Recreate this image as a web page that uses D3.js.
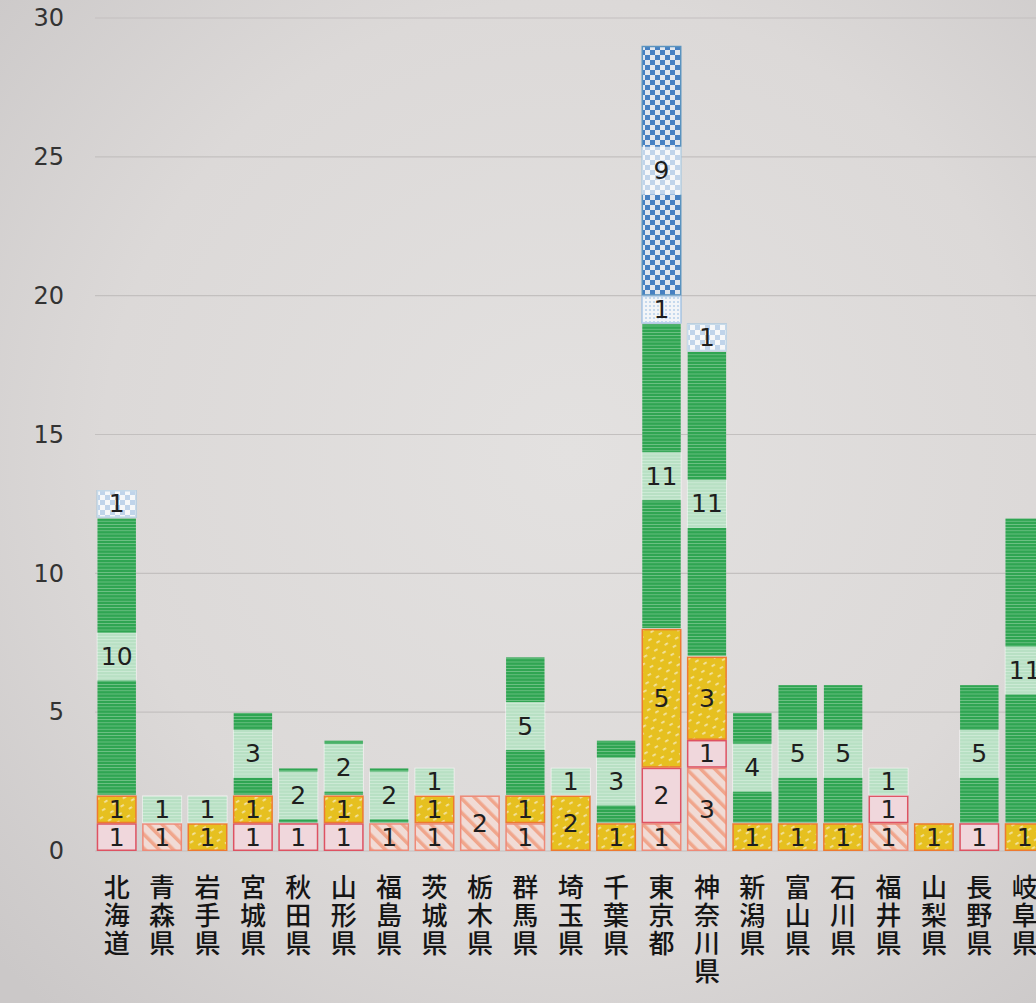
<!DOCTYPE html>
<html>
<head>
<meta charset="utf-8">
<script src="https://cdn.jsdelivr.net/npm/d3@7"></script>
<style>
  html, body { margin: 0; padding: 0; background: #d8d5d4; overflow: hidden; }
  svg { display: block; }
</style>
</head>
<body>
<svg id="chart" width="1036" height="1003"></svg>
<script>
// ---- data ----
const categories = ["北海道","青森県","岩手県","宮城県","秋田県","山形県","福島県","茨城県","栃木県","群馬県","埼玉県","千葉県","東京都","神奈川県","新潟県","富山県","石川県","福井県","山梨県","長野県","岐阜県"];
const seriesA = [0,1,0,0,0,0,1,1,2,1,0,0,1,3,0,0,0,1,0,0,0];   // salmon hatch
const seriesB = [1,0,0,1,1,1,0,0,0,0,0,0,2,1,0,0,0,1,0,1,0];   // pink
const seriesC = [1,0,1,1,0,1,0,1,0,1,2,1,5,3,1,1,1,0,1,0,1];   // yellow dotted
const seriesD = [10,1,1,3,2,2,2,1,0,5,1,3,11,11,4,5,5,1,0,5,11]; // green striped
const seriesE = [0,0,0,0,0,0,0,0,0,0,0,0,1,0,0,0,0,0,0,0,0];   // blue dotted
const seriesF = [1,0,0,0,0,0,0,0,0,0,0,0,9,1,0,0,0,0,0,0,0];   // blue checker
const yTicks = [0,5,10,15,20,25,30];

const seriesList = [
  {key:"A", values: seriesA, fill:"url(#pA)", stroke:"#ee8a78", box:false},
  {key:"B", values: seriesB, fill:"url(#pB)", stroke:"#de5262", box:false},
  {key:"C", values: seriesC, fill:"url(#pC)", stroke:"#ee7a30", box:false},
  {key:"D", values: seriesD, fill:"url(#pD)", stroke:"#2f9e4e", box:true},
  {key:"E", values: seriesE, fill:"url(#pE)", stroke:"#3a7cc4", box:true},
  {key:"F", values: seriesF, fill:"url(#pF)", stroke:"#5a93bf", box:true}
];

const svg = d3.select("#chart");
const W = 1036, H = 1003;
const defs = svg.append("defs");

// background (photo-like light vignette)
const bg = defs.append("radialGradient").attr("id","bg")
  .attr("cx","55%").attr("cy","45%").attr("r","75%");
bg.append("stop").attr("offset","0%").attr("stop-color","#e3e1e0");
bg.append("stop").attr("offset","60%").attr("stop-color","#dcd9d8");
bg.append("stop").attr("offset","100%").attr("stop-color","#cbc8c8");
svg.append("rect").attr("width",W).attr("height",H).attr("fill","url(#bg)");

// patterns
function pat(id, w, h, transform) {
  const p = defs.append("pattern").attr("id", id)
    .attr("patternUnits","userSpaceOnUse").attr("width", w).attr("height", h);
  if (transform) p.attr("patternTransform", transform);
  return p;
}
// A salmon diagonal hatch
let p = pat("pA", 10, 10, "rotate(-45)");
p.append("rect").attr("width",10).attr("height",10).attr("fill","#f1dbd5");
p.append("rect").attr("width",3.5).attr("height",10).attr("fill","#f0a68c");
// B pink
p = pat("pB", 6, 6);
p.append("rect").attr("width",6).attr("height",6).attr("fill","#f0d7dc");
// C yellow with white dashes
p = pat("pC", 12, 12, "rotate(-30)");
p.append("rect").attr("width",12).attr("height",12).attr("fill","#e6c020");
p.append("rect").attr("x",1).attr("y",2).attr("width",4).attr("height",1.8).attr("rx",0.9).attr("fill","#f3e4a6");
p.append("rect").attr("x",7).attr("y",8).attr("width",4).attr("height",1.8).attr("rx",0.9).attr("fill","#f3e4a6");
// D green horizontal stripes
p = pat("pD", 4, 3.2);
p.append("rect").attr("width",4).attr("height",3.2).attr("fill","#2fa552");
p.append("rect").attr("y",2.4).attr("width",4).attr("height",0.8).attr("fill","#74c48a");
// E blue dots
p = pat("pE", 4, 4);
p.append("rect").attr("width",4).attr("height",4).attr("fill","#dbe2ea");
p.append("circle").attr("cx",2).attr("cy",2).attr("r",1.1).attr("fill","#3a7cc4");
// F checkerboard
p = pat("pF", 10, 10);
p.append("rect").attr("width",10).attr("height",10).attr("fill","#e2e7ee");
p.append("rect").attr("width",5).attr("height",5).attr("fill","#4680c2");
p.append("rect").attr("x",5).attr("y",5).attr("width",5).attr("height",5).attr("fill","#4680c2");

// scales
const x = d3.scaleBand().domain(categories).range([94, 94 + 21 * 45.4])
  .paddingInner(0.12).paddingOuter(0.06);
const y = d3.scaleLinear().domain([0, 30]).range([851, 18]);

// gridlines
svg.append("g").selectAll("line").data(yTicks).join("line")
  .attr("x1", 95).attr("x2", W)
  .attr("y1", d => y(d)).attr("y2", d => y(d))
  .attr("stroke", "#c3c0bf").attr("stroke-width", 1.2);

// y axis via d3.axisLeft, then restyled
const yAxis = svg.append("g").attr("transform","translate(64,0)")
  .call(d3.axisLeft(y).tickValues(yTicks).tickSize(0).tickPadding(0));
yAxis.select(".domain").remove();
yAxis.selectAll("text")
  .attr("font-family","'DejaVu Sans', Verdana, sans-serif")
  .attr("font-size", 24).attr("fill","#333");

// stacked data
const table = categories.map((c, i) => {
  const o = {cat: c};
  seriesList.forEach(s => o[s.key] = s.values[i]);
  return o;
});
const stack = d3.stack().keys(seriesList.map(s => s.key));
const stacked = stack(table);

const bw = x.bandwidth();
stacked.forEach((layer, li) => {
  const s = seriesList[li];
  const g = svg.append("g");
  const segs = layer.map(d => ({cat: d.data.cat, y0: d[0], y1: d[1], v: d[1]-d[0]}))
    .filter(d => d.v > 0);
  g.selectAll("rect.bar").data(segs).join("rect")
    .attr("class","bar")
    .attr("x", d => x(d.cat) + 0.75)
    .attr("y", d => y(d.y1) + 0.75)
    .attr("width", bw - 1.5)
    .attr("height", d => y(d.y0) - y(d.y1) - 1.5)
    .attr("fill", s.fill)
    .attr("stroke", s.stroke)
    .attr("stroke-width", s.key === "D" ? 0 : 1.5);
});

// value labels (translucent boxes for some series)
const lab = svg.append("g");
stacked.forEach((layer, li) => {
  const s = seriesList[li];
  layer.forEach(d => {
    const v = d[1] - d[0];
    if (v <= 0) return;
    const cat = d.data.cat;
    const top = y(d[1]), bot = y(d[0]);
    const cy = (top + bot) / 2;
    if (s.box) {
      const bh = 48;
      const by0 = Math.max(top, cy - bh/2), by1 = Math.min(bot, cy + bh/2);
      lab.append("rect")
        .attr("x", x(cat)).attr("y", by0)
        .attr("width", bw).attr("height", by1 - by0)
        .attr("fill", "#ffffff").attr("fill-opacity", 0.66);
    }
    lab.append("text")
      .attr("x", x(cat) + bw/2).attr("y", cy)
      .attr("text-anchor","middle").attr("dominant-baseline","central")
      .attr("font-family","'DejaVu Sans', Verdana, sans-serif")
      .attr("font-size", 25).attr("fill","#1e1e1e")
      .text(v);
  });
});

// category labels (vertical stacked characters)
const cg = svg.append("g");
categories.forEach(c => {
  Array.from(c).forEach((ch, k) => {
    cg.append("text")
      .attr("text-anchor","middle")
      .attr("font-family","'Noto Sans CJK JP', sans-serif")
      .attr("font-size", 26).attr("font-weight", 500).attr("fill","#151515")
      .attr("x", x(c) + bw/2)
      .attr("y", 885 + k * 28.2)
      .attr("dominant-baseline","central")
      .text(ch);
  });
});
</script>
</body>
</html>
